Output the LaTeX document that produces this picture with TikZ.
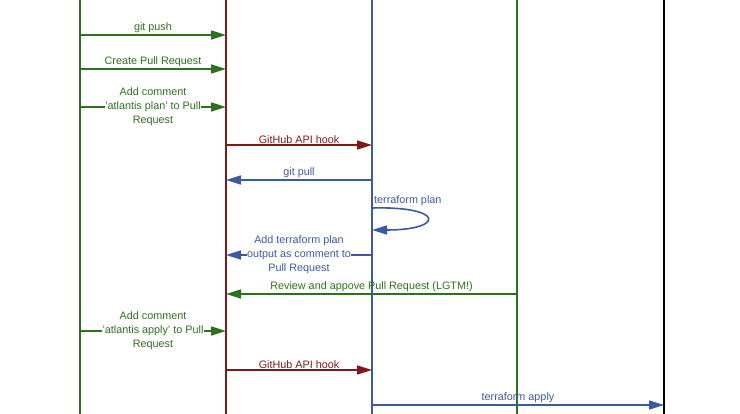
\documentclass[tikz,border=0pt]{standalone}
\usepackage{fontspec}
\setmainfont{Liberation Sans}
\usetikzlibrary{arrows.meta}
\definecolor{cgreen}{RGB}{46,112,32}
\definecolor{cred}{RGB}{128,24,24}
\definecolor{cblue}{RGB}{60,90,160}
\begin{document}
\begin{tikzpicture}[x=1pt,y=-1pt,
  life/.style={line width=1.6pt},
  msg/.style={line width=1.6pt,-{Triangle[length=15pt,width=9pt]}},
  lbl/.style={font=\fontsize{10.8}{14}\selectfont,inner sep=1pt,align=center},
  lblbg/.style={lbl,fill=white,inner sep=0.5pt}]
\useasboundingbox (0,0) rectangle (740,414);
% lifelines
\coordinate (u0) at (80,0);   \coordinate (u1) at (80,414);
\coordinate (g0) at (226,0);  \coordinate (g1) at (226,414);
\coordinate (a0) at (372,0);  \coordinate (a1) at (372,414);
\coordinate (r0) at (517,0);  \coordinate (r1) at (517,414);
\coordinate (t0) at (664,0);  \coordinate (t1) at (664,414);
\draw[life,cgreen] (u0) -- (u1);
\draw[life,cred] (g0) -- (g1);
\draw[life,cblue] (a0) -- (a1);
\draw[life,cgreen] (r0) -- (r1);
\draw[life,black] (t0) -- (t1);
% messages
\coordinate (m1s) at (80,35);  \coordinate (m1e) at (226,35);
\draw[msg,cgreen] (m1s) -- node[lbl,above] {git push} (m1e);
\coordinate (m2s) at (80,69);  \coordinate (m2e) at (226,69);
\draw[msg,cgreen] (m2s) -- node[lbl,above] {Create Pull Request} (m2e);
\coordinate (m3s) at (80,107);  \coordinate (m3e) at (226,107);
\draw[msg,cgreen] (m3s) -- node[lblbg,text=cgreen] (l3) {Add comment\\'atlantis plan' to Pull\\Request} (m3e);
\coordinate (m4s) at (226,145);  \coordinate (m4e) at (372,145);
\draw[msg,cred] (m4s) -- node[lbl,above] {GitHub API hook} (m4e);
\coordinate (m5s) at (372,180);  \coordinate (m5e) at (226,180);
\draw[msg,cblue] (m5s) -- node[lbl,above] {git pull} (m5e);
\coordinate (m6s) at (372,208);  \coordinate (m6e) at (372,230);
\draw[msg,cblue] (m6s) .. controls (445,206) and (445,230) .. (m6e);
\node[lbl,text=cblue,anchor=west] (l6) at (373,201) {terraform plan};
\coordinate (m7s) at (372,255);  \coordinate (m7e) at (226,255);
\draw[msg,cblue] (m7s) -- node[lblbg,text=cblue] (l7) {Add terraform plan\\output as comment to\\Pull Request} (m7e);
\coordinate (m8s) at (517,294);  \coordinate (m8e) at (226,294);
\draw[msg,cgreen] (m8s) -- node[lbl,above] {Review and appove Pull Request (LGTM!)} (m8e);
\coordinate (m9s) at (80,331);  \coordinate (m9e) at (226,331);
\draw[msg,cgreen] (m9s) -- node[lblbg,text=cgreen] (l9) {Add comment\\'atlantis apply' to Pull\\Request} (m9e);
\coordinate (m10s) at (226,370);  \coordinate (m10e) at (372,370);
\draw[msg,cred] (m10s) -- node[lbl,above] {GitHub API hook} (m10e);
\coordinate (m11s) at (372,405);  \coordinate (m11e) at (664,405);
\draw[msg,cblue] (m11s) -- node[lbl,above] {terraform apply} (m11e);
\end{tikzpicture}
\end{document}
